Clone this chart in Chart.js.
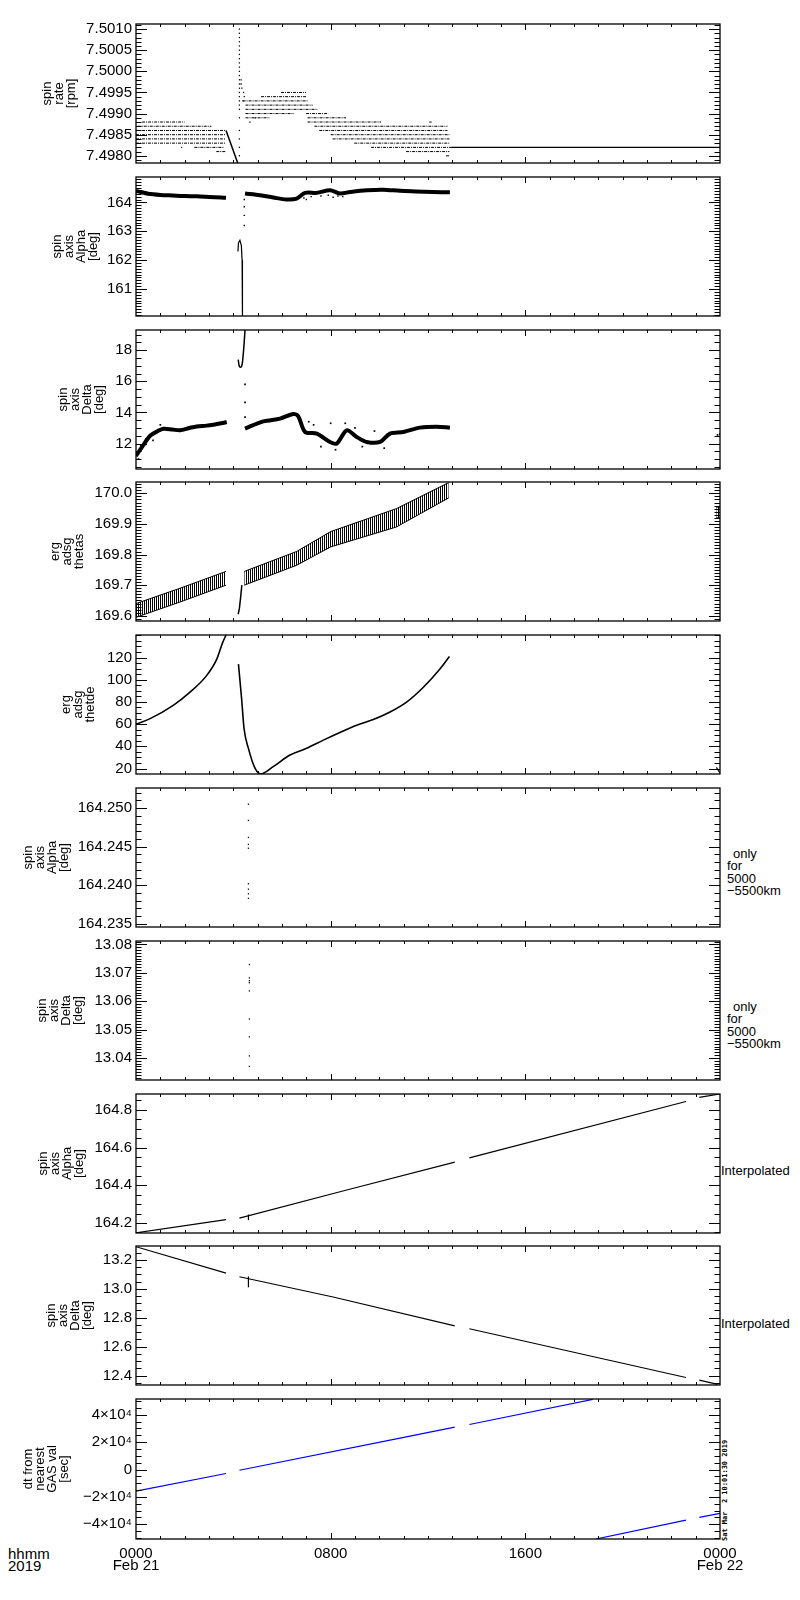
<!DOCTYPE html>
<html>
<head>
<meta charset="utf-8">
<script src="https://cdn.jsdelivr.net/npm/chart.js@4.4.1/dist/chart.umd.min.js"></script>
<style>
  body { margin: 0; background: #fff; width: 800px; height: 1600px; position: relative; overflow: hidden; font-family: "Liberation Sans", sans-serif; color: #000; }
  canvas { position: absolute; left: 0; }
  .note { position: absolute; left: 727px; font-size: 13px; line-height: 12.3px; white-space: pre; }
  .stamp { position: absolute; left: 679px; top: 1491px; width: 92px; height: 8px; font: bold 7px "DejaVu Sans Mono", monospace; line-height: 8px; transform: rotate(-90deg); white-space: pre; }
</style>
</head>
<body>
<div class="note" style="left:8px;top:1548px;font-size:15px;line-height:12px">hhmm
2019</div>
<div class="note" style="top:848px"><span style="margin-left:6px">only</span>
for
5000
−5500km</div>
<div class="note" style="top:1001px"><span style="margin-left:6px">only</span>
for
5000
−5500km</div>
<div class="note" style="left:721px;top:1165px">Interpolated</div>
<div class="note" style="left:721px;top:1318px">Interpolated</div>
<div class="stamp">Sat Mar  2 10:01:30 2019</div>
<script>
// ---- time axis (hours after 0000 Feb 21) ----
const xTickHours = [0, 8, 16, 24];
const xTickLabels = [['0000', 'Feb 21'], '0800', '1600', ['0000', 'Feb 22']];

// ---- panel 1: spin rate [rpm], quantised level runs ----
const p1RunStart = [0.25, 0.07, 0.0, 0.0, 0.0, 0.0, 1.85, 2.4, 3.3,
  5.96, 5.14, 4.38, 4.5, 4.5, 4.5, 6.99, 4.5, 7.05, 7.05, 12.05, 7.33, 7.53, 8.0, 8.08, 8.97, 9.66, 11.1, 12.74];
const p1RunEnd = [2.0, 3.1, 3.7, 3.7, 3.67, 3.67, 1.9, 3.6, 3.7,
  6.99, 6.99, 7.05, 7.26, 7.47, 6.5, 7.9, 5.5, 8.63, 10.07, 12.15, 12.8, 12.8, 12.88, 12.88, 12.88, 12.95, 12.88, 12.88];
const p1RunLevel = [7.4988, 7.4987, 7.4986, 7.4985, 7.4984, 7.4983, 7.4982, 7.4982, 7.4981,
  7.4995, 7.4994, 7.4993, 7.4992, 7.4991, 7.4990, 7.4990, 7.4989, 7.4989, 7.4988, 7.4988, 7.4987, 7.4986, 7.4985, 7.4984, 7.4983, 7.4982, 7.4981, 7.4980];
const p1SpikeHour = [4.25, 4.25, 4.25, 4.25, 4.25, 4.25, 4.25, 4.25, 4.25, 4.25, 4.25, 4.25, 4.25, 4.25, 4.25, 4.25, 4.25, 4.25, 4.25, 4.25, 4.25, 4.25, 4.25, 4.25, 4.25,
  4.32, 4.32, 4.35, 4.42, 4.45, 4.40, 4.68, 4.90];
const p1SpikeRate = [7.5010, 7.5009, 7.5008, 7.5007, 7.5006, 7.5005, 7.5004, 7.5003, 7.5002, 7.5001, 7.5000, 7.4999, 7.4998, 7.4997, 7.4996, 7.4995, 7.4994, 7.4993, 7.4992, 7.4991, 7.4989, 7.4986, 7.4984, 7.4982, 7.4980,
  7.4998, 7.4997, 7.4996, 7.4995, 7.4994, 7.4993, 7.4988, 7.4989];
const p1FallHour = [3.70, 4.18];
const p1FallRate = [7.4986, 7.49783];
const p1FlatHour = [12.95, 24];
const p1FlatRate = [7.4982, 7.4982];

// ---- panel 2: spin axis Alpha ----
const p2BandAHour = [0, 0.25, 0.5, 1.0, 1.5, 2.0, 2.5, 3.0, 3.5, 3.7];
const p2BandAVal = [164.40, 164.35, 164.30, 164.26, 164.24, 164.22, 164.21, 164.19, 164.17, 164.16];
const p2BandBHour = [4.48, 5.1, 5.64, 6.19, 6.6, 6.95, 7.43, 7.97, 8.38, 8.8, 9.48, 10.16, 10.85, 11.5, 12.2, 12.9];
const p2BandBVal = [164.31, 164.25, 164.17, 164.10, 164.13, 164.33, 164.33, 164.42, 164.31, 164.36, 164.42, 164.44, 164.40, 164.38, 164.36, 164.35];
const p2LoopHour = [4.19, 4.21, 4.27, 4.33, 4.36, 4.37, 4.38];
const p2LoopVal = [162.3, 162.6, 162.69, 162.5, 162.0, 161.0, 160.07];
const p2DotHour = [4.45, 4.45, 4.45, 4.45, 6.9, 7.0, 7.2, 7.6, 7.9, 8.1, 8.3, 8.5];
const p2DotVal = [163.2, 163.55, 163.85, 164.1, 164.15, 164.1, 164.2, 164.22, 164.25, 164.18, 164.22, 164.2];

// ---- panel 3: spin axis Delta ----
const p3BandAHour = [0, 0.3, 0.58, 0.9, 1.12, 1.5, 1.81, 2.2, 2.49, 2.9, 3.18, 3.5, 3.73];
const p3BandAVal = [11.2, 11.9, 12.5, 12.8, 12.95, 12.9, 12.85, 13.0, 13.1, 13.15, 13.21, 13.3, 13.38];
const p3BandBHour = [4.48, 5.23, 5.92, 6.47, 6.67, 6.95, 7.43, 7.97, 8.25, 8.66, 9.07, 9.48, 10.03, 10.44, 10.99, 11.67, 12.36, 12.9];
const p3BandBVal = [12.96, 13.42, 13.6, 13.9, 13.75, 12.74, 12.64, 12.1, 12.0, 12.85, 12.42, 12.1, 12.1, 12.64, 12.74, 13.02, 13.08, 13.02];
const p3LoopHour = [4.20, 4.24, 4.29, 4.35, 4.40, 4.45, 4.48];
const p3LoopVal = [17.4, 17.0, 16.9, 17.0, 17.6, 18.6, 19.3];
const p3DotHour = [4.48, 4.48, 4.48, 0.1, 0.2, 0.4, 0.7, 1.0, 7.1, 7.3, 7.6, 8.0, 8.2, 8.6, 9.0, 9.3, 9.8, 10.2, 23.9, 24.0];
const p3DotVal = [15.8, 14.65, 13.7, 11.0, 11.9, 12.3, 12.2, 13.2, 13.4, 13.2, 11.8, 13.3, 11.6, 13.3, 13.0, 11.8, 12.8, 11.7, 12.55, 12.6];

// ---- panel 4: erg adsg thetas (band edges) ----
const p4AHour = [0, 1.81, 3.7];
const p4ALow = [169.595, 169.645, 169.70];
const p4AHigh = [169.64, 169.69, 169.745];
const p4BHour = [4.45, 6.6, 8.0, 10.7, 12.85];
const p4BLow = [169.70, 169.765, 169.825, 169.89, 169.985];
const p4BHigh = [169.745, 169.81, 169.875, 169.95, 170.035];
const p4CHour = [23.85, 24];
const p4CLow = [169.92, 169.92];
const p4CHigh = [169.955, 169.955];
const p4SpikeHour = [4.20, 4.25, 4.30, 4.35];
const p4SpikeVal = [169.605, 169.625, 169.66, 169.70];

// ---- panel 5: erg adsg thetde ----
const p5AHour = [0, 0.58, 1.53, 2.22, 2.9, 3.32, 3.56, 3.7];
const p5AVal = [60, 65, 76.9, 88.8, 103.7, 118.6, 133.4, 140.3];
const p5BHour = [4.21, 4.34, 4.44, 4.62, 4.89, 5.12, 5.64, 6.33, 7.01, 7.7, 8.38, 9.07, 9.75, 10.44, 11.12, 11.81, 12.49, 12.88];
const p5BVal = [114.1, 82.9, 56.1, 38.2, 20.4, 15.2, 21.8, 32.2, 38.2, 45.6, 52.5, 59, 64.1, 70.9, 79.8, 93.2, 109.6, 120.9];
const p5CHour = [23.85, 24];
const p5CVal = [21, 16];

// ---- panels 6, 7: 5000-5500 km only ----
const p6DotHour = [4.62, 4.62, 4.62, 4.62, 4.62, 4.62, 4.62, 4.62, 4.62];
const p6DotVal = [164.2505, 164.2484, 164.2462, 164.2453, 164.2448, 164.2402, 164.2395, 164.2389, 164.2383];
const p7DotHour = [4.66, 4.66, 4.66, 4.66, 4.66, 4.66, 4.66, 4.66, 4.66];
const p7DotVal = [13.0729, 13.0682, 13.0672, 13.0665, 13.0636, 13.0537, 13.0474, 13.0407, 13.0370];

// ---- panel 8: interpolated Alpha ----
const p8Seg1Hour = [0, 3.7], p8Seg1Val = [164.148, 164.218];
const p8Seg2Hour = [4.25, 8.66, 13.1], p8Seg2Val = [164.226, 164.375, 164.523];
const p8Seg3Hour = [13.7, 22.6], p8Seg3Val = [164.545, 164.844];
const p8Seg4Hour = [23.15, 24], p8Seg4Val = [164.866, 164.884];
const p8MarkHour = [4.62, 4.62], p8MarkVal = [164.215, 164.245];

// ---- panel 9: interpolated Delta ----
const p9Seg1Hour = [0, 3.7], p9Seg1Val = [13.29, 13.108];
const p9Seg2Hour = [4.25, 8.1, 13.1], p9Seg2Val = [13.083, 12.943, 12.744];
const p9Seg3Hour = [13.7, 22.6], p9Seg3Val = [12.724, 12.388];
const p9Seg4Hour = [23.15, 23.9], p9Seg4Val = [12.37, 12.34];
const p9MarkHour = [4.62, 4.62], p9MarkVal = [13.01, 13.085];

// ---- panel 10: dt from nearest GAS val [sec] ----
const p10Seg1Hour = [0, 3.7], p10Seg1Val = [-15800, -2900];
const p10Seg2Hour = [4.25, 10.85, 13.1], p10Seg2Val = [-500, 23000, 31000];
const p10Seg3Hour = [13.7, 18.77], p10Seg3Val = [32900, 51200];
const p10Seg4Hour = [18.9, 22.6], p10Seg4Val = [-50700, -36900];
const p10Seg5Hour = [23.15, 24], p10Seg5Val = [-34900, -32000];

// ---- y axes ----
const p1Ticks = [7.4980, 7.4985, 7.4990, 7.4995, 7.5000, 7.5005, 7.5010];
const p2Ticks = [161, 162, 163, 164];
const p3Ticks = [12, 14, 16, 18];
const p4Ticks = [169.6, 169.7, 169.8, 169.9, 170.0];
const p5Ticks = [20, 40, 60, 80, 100, 120];
const p6Ticks = [164.235, 164.240, 164.245, 164.250];
const p7Ticks = [13.04, 13.05, 13.06, 13.07, 13.08];
const p8Ticks = [164.2, 164.4, 164.6, 164.8];
const p9Ticks = [12.4, 12.6, 12.8, 13.0, 13.2];
const p10Ticks = [-40000, -20000, 0, 20000, 40000];
const p10TickLabels = ['−4×10⁴', '−2×10⁴', '0', '2×10⁴', '4×10⁴'];

// layout of the stacked panels (px)
const PANEL_TOP = [23, 176, 329, 481, 634, 787, 940, 1093, 1245, 1398];
const PANEL_H = 141, PAD = 12, PLOT_LEFT = 136, PLOT_RIGHT = 720, XAXIS_H = 52;
const FONT = 'Liberation Sans';

function pts(xs, ys) {
    return xs.map((x, k) => ({x: x, y: ys[k]}));
}

function runs(starts, ends, levels) {
    const out = [];
    starts.forEach((s, k) => {
        out.push({x: s, y: levels[k]}, {x: ends[k], y: levels[k]}, {x: ends[k], y: null});
    });
    return out;
}

function line(data, opts) {
    return Object.assign({data: data, showLine: true, borderColor: '#000', borderWidth: 1.2,
        pointRadius: 0, spanGaps: false, fill: false}, opts || {});
}

function dots(data, r) {
    return {data: data, showLine: false, pointStyle: 'rect', pointRadius: r || 1,
        backgroundColor: '#000', borderWidth: 0};
}

function stripes() {
    const pc = document.createElement('canvas');
    pc.width = 2; pc.height = 4;
    const g = pc.getContext('2d');
    g.fillStyle = '#000';
    g.fillRect(0, 0, 1, 4);
    return g.createPattern(pc, 'repeat');
}

// inward IDL style ticks and the box round each plot
const frameTicks = {
    id: 'frameTicks',
    afterDraw(chart, args, opts) {
        const {ctx, chartArea: a, scales: {x, y}} = chart;
        ctx.save();
        ctx.strokeStyle = '#000';
        ctx.lineWidth = 1;
        ctx.beginPath();
        const step = opts.minor;
        for (let k = Math.ceil(y.min / step - 1e-6); k * step <= y.max + step * 1e-6; k++) {
            const py = Math.round(y.getPixelForValue(k * step)) + 0.5;
            ctx.moveTo(a.left, py); ctx.lineTo(a.left + 5.5, py);
            ctx.moveTo(a.right, py); ctx.lineTo(a.right - 5.5, py);
        }
        opts.ticks.forEach(v => {
            const py = Math.round(y.getPixelForValue(v)) + 0.5;
            ctx.moveTo(a.left, py); ctx.lineTo(a.left + 11, py);
            ctx.moveTo(a.right, py); ctx.lineTo(a.right - 11, py);
        });
        for (let h = 1; h < 24; h++) {
            const px = Math.round(x.getPixelForValue(h)) + 0.5;
            const len = xTickHours.includes(h) ? 6 : 3;
            ctx.moveTo(px, a.top); ctx.lineTo(px, a.top + len);
            ctx.moveTo(px, a.bottom); ctx.lineTo(px, a.bottom - len);
        }
        ctx.stroke();
        ctx.lineWidth = 1.3;
        ctx.strokeRect(a.left, a.top, a.right - a.left, a.bottom - a.top);
        ctx.restore();
    }
};

const panels = [
    {range: [7.49783, 7.50112], ticks: p1Ticks, minor: 0.0001, labels: p1Ticks.map(v => v.toFixed(4)),
     title: ['spin', 'rate', '[rpm]'], titleX: 47,
     datasets: [
        line(runs(p1RunStart, p1RunEnd, p1RunLevel), {borderWidth: 1, borderDash: [3, 1, 1, 1]}),
        dots(pts(p1SpikeHour, p1SpikeRate), 0.9),
        line(pts(p1FallHour, p1FallRate), {borderWidth: 1.5}),
        line(pts(p1FlatHour, p1FlatRate))
     ]},
    {range: [160.065, 164.88], ticks: p2Ticks, minor: 0.1, labels: p2Ticks.map(String),
     title: ['spin', 'axis', 'Alpha', '[deg]'], titleX: 57,
     datasets: [
        line(pts(p2BandAHour, p2BandAVal), {borderWidth: 4, tension: 0.3}),
        line(pts(p2BandBHour, p2BandBVal), {borderWidth: 4, tension: 0.3}),
        line(pts(p2LoopHour, p2LoopVal), {borderWidth: 1.2}),
        dots(pts(p2DotHour, p2DotVal), 1)
     ]},
    {range: [10.36, 19.3], ticks: p3Ticks, minor: 0.5, labels: p3Ticks.map(String),
     title: ['spin', 'axis', 'Delta', '[deg]'], titleX: 63,
     datasets: [
        line(pts(p3BandAHour, p3BandAVal), {borderWidth: 4, tension: 0.3}),
        line(pts(p3BandBHour, p3BandBVal), {borderWidth: 4, tension: 0.3}),
        line(pts(p3LoopHour, p3LoopVal), {borderWidth: 1.5, tension: 0.3}),
        dots(pts(p3DotHour, p3DotVal), 1.2)
     ]},
    {range: [169.583, 170.037], ticks: p4Ticks, minor: 0.01, labels: p4Ticks.map(v => v.toFixed(1)),
     title: ['erg', 'adsg', 'thetas'], titleX: 55,
     datasets: [
        line(pts(p4AHour, p4AHigh), {fill: '+1', backgroundColor: stripes(), borderWidth: 1}),
        line(pts(p4AHour, p4ALow), {borderWidth: 1}),
        line(pts(p4BHour, p4BHigh), {fill: '+1', backgroundColor: stripes(), borderWidth: 1}),
        line(pts(p4BHour, p4BLow), {borderWidth: 1}),
        line(pts(p4CHour, p4CHigh), {fill: '+1', backgroundColor: stripes(), borderWidth: 1}),
        line(pts(p4CHour, p4CLow), {borderWidth: 1}),
        line(pts(p4SpikeHour, p4SpikeVal), {borderWidth: 1.5})
     ]},
    {range: [15.1, 140.3], ticks: p5Ticks, minor: 5, labels: p5Ticks.map(String),
     title: ['erg', 'adsg', 'thetde'], titleX: 66,
     datasets: [
        line(pts(p5AHour, p5AVal), {borderWidth: 1.6, cubicInterpolationMode: 'monotone'}),
        line(pts(p5BHour, p5BVal), {borderWidth: 1.6, cubicInterpolationMode: 'monotone'}),
        line(pts(p5CHour, p5CVal), {borderWidth: 1.2})
     ]},
    {range: [164.2346, 164.2526], ticks: p6Ticks, minor: 0.001, labels: p6Ticks.map(v => v.toFixed(3)),
     title: ['spin', 'axis', 'Alpha', '[deg]'], titleX: 28,
     datasets: [dots(pts(p6DotHour, p6DotVal), 0.9)]},
    {range: [13.0322, 13.0812], ticks: p7Ticks, minor: 0.001, labels: p7Ticks.map(v => v.toFixed(2)),
     title: ['spin', 'axis', 'Delta', '[deg]'], titleX: 42,
     datasets: [dots(pts(p7DotHour, p7DotVal), 0.9)]},
    {range: [164.147, 164.884], ticks: p8Ticks, minor: 0.05, labels: p8Ticks.map(v => v.toFixed(1)),
     title: ['spin', 'axis', 'Alpha', '[deg]'], titleX: 43,
     datasets: [
        line(pts(p8Seg1Hour, p8Seg1Val)), line(pts(p8Seg2Hour, p8Seg2Val)),
        line(pts(p8Seg3Hour, p8Seg3Val)), line(pts(p8Seg4Hour, p8Seg4Val)),
        line(pts(p8MarkHour, p8MarkVal))
     ]},
    {range: [12.336, 13.295], ticks: p9Ticks, minor: 0.05, labels: p9Ticks.map(v => v.toFixed(1)),
     title: ['spin', 'axis', 'Delta', '[deg]'], titleX: 51,
     datasets: [
        line(pts(p9Seg1Hour, p9Seg1Val)), line(pts(p9Seg2Hour, p9Seg2Val)),
        line(pts(p9Seg3Hour, p9Seg3Val)), line(pts(p9Seg4Hour, p9Seg4Val)),
        line(pts(p9MarkHour, p9MarkVal))
     ]},
    {range: [-50700, 51500], ticks: p10Ticks, minor: 5000, labels: p10TickLabels,
     title: ['dt from', 'nearest', 'GAS val', '[sec]'], titleX: 28,
     datasets: [
        line(pts(p10Seg1Hour, p10Seg1Val), {borderColor: '#0000ff'}),
        line(pts(p10Seg2Hour, p10Seg2Val), {borderColor: '#0000ff'}),
        line(pts(p10Seg3Hour, p10Seg3Val), {borderColor: '#0000ff'}),
        line(pts(p10Seg4Hour, p10Seg4Val), {borderColor: '#0000ff'}),
        line(pts(p10Seg5Hour, p10Seg5Val), {borderColor: '#0000ff'})
     ]}
];

panels.forEach((p, i) => {
    const isBottom = i === panels.length - 1;
    const canvas = document.createElement('canvas');
    canvas.width = 800;
    canvas.height = PAD + PANEL_H + (isBottom ? XAXIS_H : PAD);
    canvas.style.top = (PANEL_TOP[i] - PAD) + 'px';
    document.body.appendChild(canvas);

    new Chart(canvas, {
        type: 'scatter',
        data: {datasets: p.datasets},
        options: {
            responsive: false,
            animation: false,
            devicePixelRatio: 1,
            events: [],
            layout: {padding: {left: 0, right: 800 - PLOT_RIGHT, top: PAD, bottom: isBottom ? 0 : PAD}},
            plugins: {
                legend: {display: false},
                tooltip: {enabled: false},
                frameTicks: {ticks: p.ticks, minor: p.minor}
            },
            scales: {
                x: {
                    type: 'linear', min: 0, max: 24, display: isBottom,
                    grid: {display: false, drawTicks: false},
                    border: {display: false},
                    afterBuildTicks: s => { s.ticks = xTickHours.map(v => ({value: v})); },
                    afterFit: s => { s.height = isBottom ? XAXIS_H : 0; },
                    ticks: {
                        autoSkip: false, maxRotation: 0, padding: 9, color: '#000',
                        font: {family: FONT, size: 15, lineHeight: 0.8},
                        callback: (v, k) => xTickLabels[k]
                    }
                },
                y: {
                    type: 'linear', min: p.range[0], max: p.range[1],
                    grid: {display: false, drawTicks: false},
                    border: {display: false},
                    afterBuildTicks: s => { s.ticks = p.ticks.map(v => ({value: v})); },
                    afterFit: s => { s.width = PLOT_LEFT; },
                    ticks: {
                        autoSkip: false, padding: 4, color: '#000',
                        font: {family: FONT, size: 15},
                        callback: (v, k) => p.labels[k]
                    },
                    title: {
                        display: true, text: p.title, color: '#000',
                        font: {family: FONT, size: 13, lineHeight: 12 / 13},
                        padding: {top: p.titleX - 6, bottom: 0}
                    }
                }
            }
        },
        plugins: [frameTicks]
    });
});
</script>
</body>
</html>
